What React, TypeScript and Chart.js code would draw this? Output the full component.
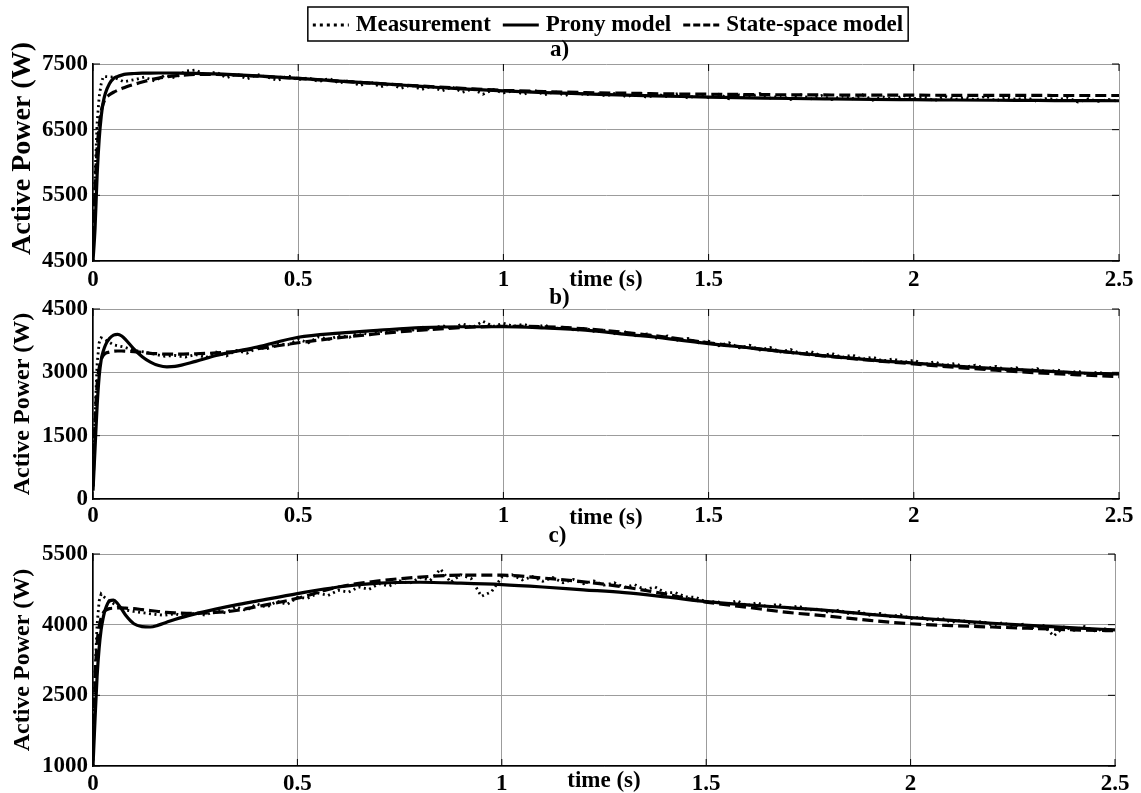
import { useEffect, useRef } from "react";
import { Chart, registerables } from "chart.js";

Chart.register(...registerables);

const W = 1141;
const H = 793;
const FONT = "'Liberation Serif', 'Times New Roman', Times, serif";

// ---------- data ----------
const tMeas = [
  0, 0.005, 0.01, 0.015, 0.02,
  0.025, 0.05, 0.075, 0.1, 0.125, 0.15, 0.175, 0.2, 0.225, 0.25,
  0.275, 0.3, 0.325, 0.35, 0.375, 0.4, 0.425, 0.45, 0.475, 0.5,
  0.525, 0.55, 0.575, 0.6, 0.625, 0.65, 0.675, 0.7, 0.725, 0.75,
  0.775, 0.8, 0.825, 0.85, 0.875, 0.9, 0.925, 0.95, 0.975, 1.0,
  1.025, 1.05, 1.075, 1.1, 1.125, 1.15, 1.175, 1.2, 1.225, 1.25,
  1.275, 1.3, 1.325, 1.35, 1.375, 1.4, 1.425, 1.45, 1.475, 1.5,
  1.525, 1.55, 1.575, 1.6, 1.625, 1.65, 1.675, 1.7, 1.725, 1.75,
  1.775, 1.8, 1.825, 1.85, 1.875, 1.9, 1.925, 1.95, 1.975, 2.0,
  2.025, 2.05, 2.075, 2.1, 2.125, 2.15, 2.175, 2.2, 2.225, 2.25,
  2.275, 2.3, 2.325, 2.35, 2.375, 2.4, 2.425, 2.45, 2.475, 2.5,
];

const tModel = [
  0, 0.005, 0.01, 0.015, 0.02, 0.025, 0.03, 0.04, 0.05, 0.06, 0.07, 0.08,
  0.1, 0.12, 0.14, 0.16, 0.18, 0.2,
  0.25, 0.3, 0.35, 0.4,
  0.5, 0.6, 0.7, 0.8, 0.9, 1.0, 1.1, 1.2, 1.3, 1.4, 1.5, 1.6, 1.7, 1.8, 1.9, 2.0,
  2.1, 2.2, 2.3, 2.4, 2.5,
];

// Panel a)
const measA = [
  4500, 5800, 6600, 7000, 7200,
  7310, 7300, 7230, 7260, 7300, 7240, 7330, 7290, 7390, 7410,
  7330, 7380, 7290, 7350, 7270, 7340, 7300, 7250, 7320, 7260,
  7290, 7230, 7280, 7210, 7250, 7170, 7230, 7150, 7200, 7130,
  7180, 7110, 7160, 7090, 7150, 7070, 7120, 7040, 7110, 7060,
  7090, 7040, 7100, 7030, 7080, 7020, 7070, 7030, 7060, 7010,
  7060, 7000, 7050, 6990, 7040, 7000, 7050, 6980, 7030, 6990,
  7040, 6970, 7030, 7000, 7050, 6980, 7020, 6960, 7030, 6970,
  7020, 6960, 7010, 6970, 7030, 6950, 7000, 6960, 7020, 6970,
  7000, 6940, 7010, 6960, 6990, 6950, 7010, 6940, 6990, 6960,
  6990, 6930, 6980, 6950, 6990, 6920, 6970, 6930, 6960, 6930,
];
const pronyA = [
  4500, 5000, 5800, 6350, 6700, 6920, 7050, 7200, 7280, 7310, 7330, 7345,
  7355, 7360, 7362, 7363, 7363, 7362,
  7358, 7350, 7335, 7318,
  7280, 7240, 7200, 7160, 7120, 7090, 7065, 7045, 7025, 7010, 6995, 6985, 6975, 6968, 6962, 6957,
  6952, 6948, 6945, 6942, 6940,
];
const ssA = [
  4600, 5600, 6200, 6550, 6780, 6900, 6970, 7030, 7070, 7100, 7125, 7150,
  7190, 7225, 7260, 7285, 7305, 7320,
  7340, 7340, 7330, 7315,
  7280, 7240, 7200, 7165, 7130, 7100, 7080, 7065, 7055, 7045, 7040, 7035, 7030, 7028, 7026, 7025,
  7023, 7022, 7021, 7020, 7020,
];

// Panel b)
const measB = [
  300, 2000, 3200, 3700, 3820,
  3800, 3650, 3600, 3520, 3480, 3430, 3380, 3400, 3360, 3420,
  3350, 3480, 3390, 3520, 3450, 3580, 3560, 3680, 3650, 3780,
  3700, 3840, 3780, 3870, 3830, 3950, 3890, 3970, 3940, 4030,
  3980, 4080, 4010, 4110, 4040, 4150, 4060, 4210, 4090, 4160,
  4090, 4140, 4050, 4120, 4030, 4080, 3990, 4050, 3950, 4000,
  3900, 3960, 3860, 3910, 3800, 3860, 3760, 3800, 3700, 3740,
  3630, 3700, 3580, 3640, 3530, 3590, 3480, 3540, 3440, 3490,
  3390, 3450, 3350, 3410, 3310, 3360, 3270, 3320, 3230, 3290,
  3180, 3250, 3160, 3210, 3120, 3170, 3090, 3140, 3060, 3110,
  3020, 3090, 3000, 3060, 2970, 3030, 2950, 3010, 2920, 2980,
];
const pronyB = [
  200, 1200, 2200, 2900, 3300, 3500, 3640, 3800, 3880, 3900, 3860, 3770,
  3550, 3370, 3240, 3160, 3130, 3140,
  3260, 3400, 3500, 3600,
  3830, 3930, 4000, 4060, 4080, 4080, 4050, 4000, 3900, 3800, 3680, 3580, 3470, 3380, 3290, 3220,
  3150, 3090, 3040, 2990, 2960,
];
const ssB = [
  300, 1800, 2700, 3100, 3300, 3400, 3450, 3480, 3500, 3505, 3505, 3500,
  3490, 3470, 3450, 3440, 3430, 3430,
  3440, 3460, 3500, 3560,
  3700, 3820, 3920, 4000, 4060, 4090, 4080, 4030, 3940, 3830, 3700, 3580, 3470, 3370, 3280, 3200,
  3120, 3050, 2990, 2940, 2900,
];

// Panel c)
const measC = [
  1000, 3000, 4000, 4500, 4650,
  4600, 4450, 4320, 4280, 4250, 4220, 4200, 4230, 4180, 4250,
  4200, 4300, 4250, 4380, 4300, 4440, 4370, 4500, 4430, 4580,
  4560, 4670, 4620, 4730, 4690, 4800, 4750, 4870, 4820, 4930,
  4880, 5000, 4940, 5180, 4900, 5060, 4980, 4600, 4700, 5010,
  5060, 4950, 5020, 4920, 5000, 4890, 4960, 4870, 4930, 4840,
  4890, 4790, 4850, 4740, 4800, 4680, 4680, 4590, 4580, 4480,
  4490, 4430, 4510, 4400, 4470, 4370, 4440, 4340, 4400, 4310,
  4330, 4260, 4310, 4230, 4280, 4200, 4240, 4170, 4210, 4130,
  4160, 4080, 4140, 4050, 4100, 4020, 4070, 3990, 4040, 3970,
  4010, 3940, 3980, 3760, 3950, 3880, 3960, 3870, 3910, 3880,
];
const pronyC = [
  1000, 2000, 2900, 3500, 3900, 4150, 4320, 4500, 4520, 4450, 4330, 4200,
  4020, 3960, 3950, 3990, 4050, 4110,
  4230, 4330, 4420, 4500,
  4660, 4800, 4880, 4900, 4880, 4850, 4800, 4740, 4680, 4590, 4490, 4420, 4360, 4300, 4220, 4150,
  4090, 4030, 3980, 3930, 3890,
];
const ssC = [
  1200, 2800, 3600, 3950, 4150, 4250, 4300, 4340, 4350, 4355, 4355, 4350,
  4340, 4320, 4300, 4280, 4260, 4250,
  4240, 4260, 4300, 4380,
  4560, 4800, 4930, 5010, 5050, 5050, 4990, 4910, 4800, 4650, 4480, 4370, 4260, 4180, 4090, 4020,
  3980, 3950, 3920, 3890, 3870,
];

const legendLabels = ["Measurement", "Prony model", "State-space model"];
const panelTitles = ["a)", "b)", "c)"];
const xTickValues = [0, 0.5, 1, 1.5, 2, 2.5];
const yTicksA = [4500, 5500, 6500, 7500];
const yTicksB = [0, 1500, 3000, 4500];
const yTicksC = [1000, 2500, 4000, 5500];
const xAxisLabel = "time (s)";
const yAxisLabel = "Active Power (W)";

// ---------- layout / style ----------
const GRID = "#9c9c9c";
const TXT = 23;

interface PanelSpec {
  title: string;
  meas: number[];
  prony: number[];
  ss: number[];
  yTicks: number[];
  area: { left: number; right: number; top: number; bottom: number };
  titleMid: number;
  xLabelMid: number;
  xTitleMid: number;
  yTitleSize: number;
  yTitlePrefix: string;
  legend: boolean;
}

const panels: PanelSpec[] = [
  {
    title: panelTitles[0], meas: measA, prony: pronyA, ss: ssA, yTicks: yTicksA,
    area: { left: 93, right: 1119, top: 64, bottom: 261 },
    titleMid: 50, xLabelMid: 280, xTitleMid: 280.5, yTitleSize: 28, yTitlePrefix: "    ", legend: true,
  },
  {
    title: panelTitles[1], meas: measB, prony: pronyB, ss: ssB, yTicks: yTicksB,
    area: { left: 93, right: 1119, top: 309, bottom: 499 },
    titleMid: 298, xLabelMid: 516, xTitleMid: 518, yTitleSize: 24, yTitlePrefix: "", legend: false,
  },
  {
    title: panelTitles[2], meas: measC, prony: pronyC, ss: ssC, yTicks: yTicksC,
    area: { left: 93, right: 1115, top: 554, bottom: 766 },
    titleMid: 536, xLabelMid: 784, xTitleMid: 781, yTitleSize: 24, yTitlePrefix: "", legend: false,
  },
];

const boxLegendPlugin = {
  id: "boxLegend",
  afterDraw(chart: any, _args: any, opts: any) {
    if (!opts || !opts.show) return;
    const ctx: CanvasRenderingContext2D = chart.ctx;
    const ds = chart.data.datasets;
    const dashes = opts.dashes as number[][];
    ctx.save();
    ctx.font = `bold ${TXT}px ${FONT}`;
    const sample = 36, gapST = 7, gapItem = 12, pad = 5;
    const widths = ds.map((d: any) => ctx.measureText(d.label).width);
    const total = pad * 2 + widths.reduce((a: number, b: number) => a + b, 0) + ds.length * (sample + gapST) + (ds.length - 1) * gapItem;
    const left = opts.centerX - total / 2;
    const top = opts.top, bottom = opts.bottom;
    const mid = (top + bottom) / 2 + 1;
    ctx.lineWidth = 1.5;
    ctx.strokeStyle = "#000";
    ctx.setLineDash([]);
    ctx.strokeRect(left, top, total, bottom - top);
    let x = left + pad;
    ds.forEach((d: any, i: number) => {
      ctx.beginPath();
      ctx.setLineDash(dashes[i]);
      ctx.lineWidth = 3;
      ctx.moveTo(x, mid);
      ctx.lineTo(x + sample, mid);
      ctx.stroke();
      ctx.setLineDash([]);
      x += sample + gapST;
      ctx.fillStyle = "#000";
      ctx.textBaseline = "middle";
      ctx.textAlign = "left";
      ctx.fillText(d.label, x, mid);
      x += widths[i] + gapItem;
    });
    ctx.restore();
  },
};

const inwardTicksPlugin = {
  id: "inwardTicks",
  afterDraw(chart: any) {
    const { ctx, chartArea } = chart;
    const xs = chart.scales.x, ys = chart.scales.y;
    const L = 7;
    ctx.save();
    ctx.strokeStyle = "#000";
    ctx.lineWidth = 1;
    xs.ticks.forEach((t: any) => {
      const px = xs.getPixelForValue(t.value);
      ctx.beginPath();
      ctx.moveTo(px, chartArea.bottom);
      ctx.lineTo(px, chartArea.bottom - L);
      ctx.moveTo(px, chartArea.top);
      ctx.lineTo(px, chartArea.top + L);
      ctx.stroke();
    });
    ys.ticks.forEach((t: any) => {
      const py = ys.getPixelForValue(t.value);
      ctx.beginPath();
      ctx.moveTo(chartArea.left, py);
      ctx.lineTo(chartArea.left + L, py);
      ctx.moveTo(chartArea.right, py);
      ctx.lineTo(chartArea.right - L, py);
      ctx.stroke();
    });
    ctx.restore();
  },
};

function buildChart(canvas: HTMLCanvasElement, p: PanelSpec) {
  const X_H = 27;
  const titleLH = 0.6;
  const titleBox = TXT * titleLH;
  const tPadTop = p.titleMid - titleBox / 2;
  const tPadBottom = p.area.top - p.titleMid - titleBox / 2;
  const xBottom = p.area.bottom + X_H;
  const tickFont = { family: FONT, size: TXT, weight: "bold" as const, lineHeight: 1 };

  return new Chart(canvas, {
    type: "line",
    data: {
      datasets: [
        {
          label: legendLabels[0],
          data: tMeas.map((x, i) => ({ x, y: p.meas[i] })),
          borderColor: "#000",
          borderWidth: 2.8,
          borderDash: [2, 3.5],
          pointRadius: 0,
          tension: 0,
          fill: false,
        },
        {
          label: legendLabels[1],
          data: tModel.map((x, i) => ({ x, y: p.prony[i] })),
          borderColor: "#000",
          borderWidth: 3.2,
          pointRadius: 0,
          cubicInterpolationMode: "monotone",
          fill: false,
        },
        {
          label: legendLabels[2],
          data: tModel.map((x, i) => ({ x, y: p.ss[i] })),
          borderColor: "#000",
          borderWidth: 3.2,
          borderDash: [11, 5],
          pointRadius: 0,
          cubicInterpolationMode: "monotone",
          fill: false,
        },
      ],
    },
    options: {
      responsive: false,
      maintainAspectRatio: false,
      animation: false,
      events: [],
      layout: {
        padding: { left: 0, top: 0, right: W - p.area.right, bottom: H - xBottom },
      },
      plugins: {
        legend: { display: false },
        tooltip: { enabled: false },
        title: {
          display: true,
          text: p.title,
          color: "#000",
          font: { family: FONT, size: TXT, weight: "bold", lineHeight: titleLH },
          padding: { top: tPadTop, bottom: tPadBottom },
        },
        // @ts-ignore
        boxLegend: { show: p.legend, centerX: 608, top: 7, bottom: 41, dashes: [[3, 4], [], [7, 3]] },
      },
      scales: {
        x: {
          type: "linear",
          min: 0,
          max: 2.5,
          afterBuildTicks: (s: any) => {
            s.ticks = xTickValues.map((v) => ({ value: v }));
          },
          afterFit: (s: any) => {
            s.height = X_H;
          },
          grid: { color: GRID, lineWidth: 1, drawTicks: false },
          border: { display: true, color: "#000", width: 1.5 },
          ticks: {
            color: "#000",
            font: tickFont,
            padding: p.xLabelMid - p.area.bottom - TXT / 2,
            maxRotation: 0,
            autoSkip: false,
            callback: (v: any) => String(v),
          },
          title: {
            display: true,
            text: xAxisLabel,
            color: "#000",
            font: { family: FONT, size: TXT, weight: "bold", lineHeight: titleLH },
            padding: { top: 0, bottom: xBottom - p.xTitleMid - titleBox / 2 },
          },
        },
        y: {
          type: "linear",
          min: p.yTicks[0],
          max: p.yTicks[p.yTicks.length - 1],
          afterBuildTicks: (s: any) => {
            s.ticks = p.yTicks.map((v) => ({ value: v }));
          },
          afterFit: (s: any) => {
            s.width = p.area.left;
          },
          grid: { color: GRID, lineWidth: 1, drawTicks: false },
          border: { display: true, color: "#000", width: 1.5 },
          ticks: {
            color: "#000",
            font: tickFont,
            padding: 5,
            callback: (v: any) => String(v),
          },
          title: {
            display: true,
            text: p.yTitlePrefix + yAxisLabel,
            color: "#000",
            font: { family: FONT, size: p.yTitleSize, weight: "bold", lineHeight: 1 },
            padding: { top: 23 - p.yTitleSize / 2, bottom: 0 },
          },
        },
      },
    } as any,
    plugins: [boxLegendPlugin, inwardTicksPlugin],
  });
}

export default function App() {
  const refs = [useRef<HTMLCanvasElement>(null), useRef<HTMLCanvasElement>(null), useRef<HTMLCanvasElement>(null)];

  useEffect(() => {
    const charts = panels.map((p, i) => buildChart(refs[i].current as HTMLCanvasElement, p));
    return () => charts.forEach((c) => c.destroy());
  }, []);

  return (
    <div style={{ position: "absolute", left: 0, top: 0, width: W, height: H, background: "#fff", overflow: "hidden" }}>
      {panels.map((p, i) => (
        <canvas
          key={p.title}
          ref={refs[i]}
          width={W}
          height={H}
          style={{ position: "absolute", left: 0, top: 0, width: W, height: H }}
        />
      ))}
    </div>
  );
}
